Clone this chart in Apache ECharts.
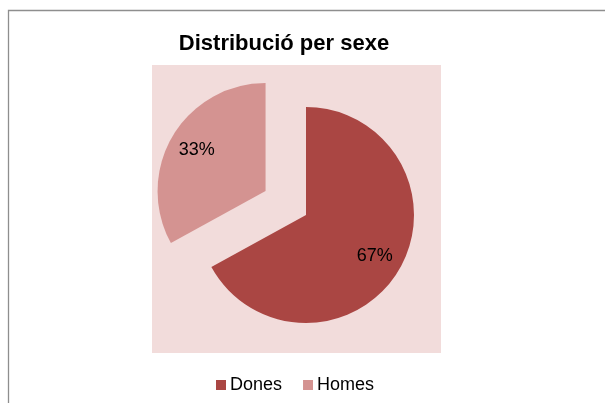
<!DOCTYPE html>
<html>
<head>
<meta charset="utf-8">
<script src="https://cdn.jsdelivr.net/npm/echarts@6/dist/echarts.min.js"></script>
<style>html,body{margin:0;padding:0;background:#fff}#c{width:605px;height:403px}</style>
</head>
<body>
<div id="c"></div>
<script>
var titleText = 'Distribució per sexe';
var categories = ['Dones', 'Homes'];
var values = [67, 33];
var colors = ['#AA4643', '#D49391'];
var explodedName = 'Homes';

var FONT = '"Liberation Sans", Arial, sans-serif';
var chart = echarts.init(document.getElementById('c'), null, {renderer: 'canvas'});

function mkData(fill) {
  return categories.map(function (n, i) {
    return {
      name: n,
      value: values[i],
      selected: n === explodedName,
      itemStyle: {color: fill ? colors[i] : 'rgba(0,0,0,0)'}
    };
  });
}

chart.setOption({
  animation: false,
  backgroundColor: '#ffffff',
  title: {
    text: titleText,
    left: 279, textAlign: 'center', top: 28,
    textStyle: {fontFamily: FONT, fontSize: 22, fontWeight: 'bold', color: '#000'}
  },
  legend: {
    data: categories.map(function (n, i) { return {name: n, itemStyle: {color: colors[i]}}; }),
    top: 376, left: 216, padding: 0,
    icon: 'rect', itemWidth: 10, itemHeight: 10, itemGap: 21,
    selectedMode: false,
    textStyle: {fontFamily: FONT, fontSize: 18, color: '#000', lineHeight: 18, padding: [0, 0, 0, -1]}
  },
  graphic: [
    {type: 'rect', z: -10, silent: true, shape: {x: 8.5, y: 10.5, width: 800, height: 600},
      style: {fill: '#fff', stroke: '#8E8E8E', lineWidth: 1.3}},
    {type: 'rect', z: -5, silent: true, shape: {x: 152, y: 65, width: 289, height: 288},
      style: {fill: '#F2DCDB'}}
  ],
  series: [
    {
      type: 'pie',
      center: [306, 215],
      radius: [0, 108],
      startAngle: 90,
      clockwise: true,
      selectedMode: 'single',
      selectedOffset: 47,
      silent: true,
      label: {show: false},
      labelLine: {show: false},
      emphasis: {disabled: true, scale: false},
      itemStyle: {borderWidth: 0},
      data: mkData(true)
    },
    {
      type: 'pie',
      center: [306, 215],
      radius: [46, 108],
      startAngle: 90,
      clockwise: true,
      selectedMode: 'single',
      selectedOffset: 47,
      silent: true,
      z: 5,
      label: {
        show: true, position: 'inside',
        fontFamily: FONT, fontSize: 18, color: '#000',
        formatter: function (p) { return Math.round(p.percent) + '%'; }
      },
      labelLine: {show: false},
      emphasis: {disabled: true, scale: false},
      itemStyle: {borderWidth: 0},
      data: mkData(false)
    }
  ]
});
</script>
</body>
</html>
